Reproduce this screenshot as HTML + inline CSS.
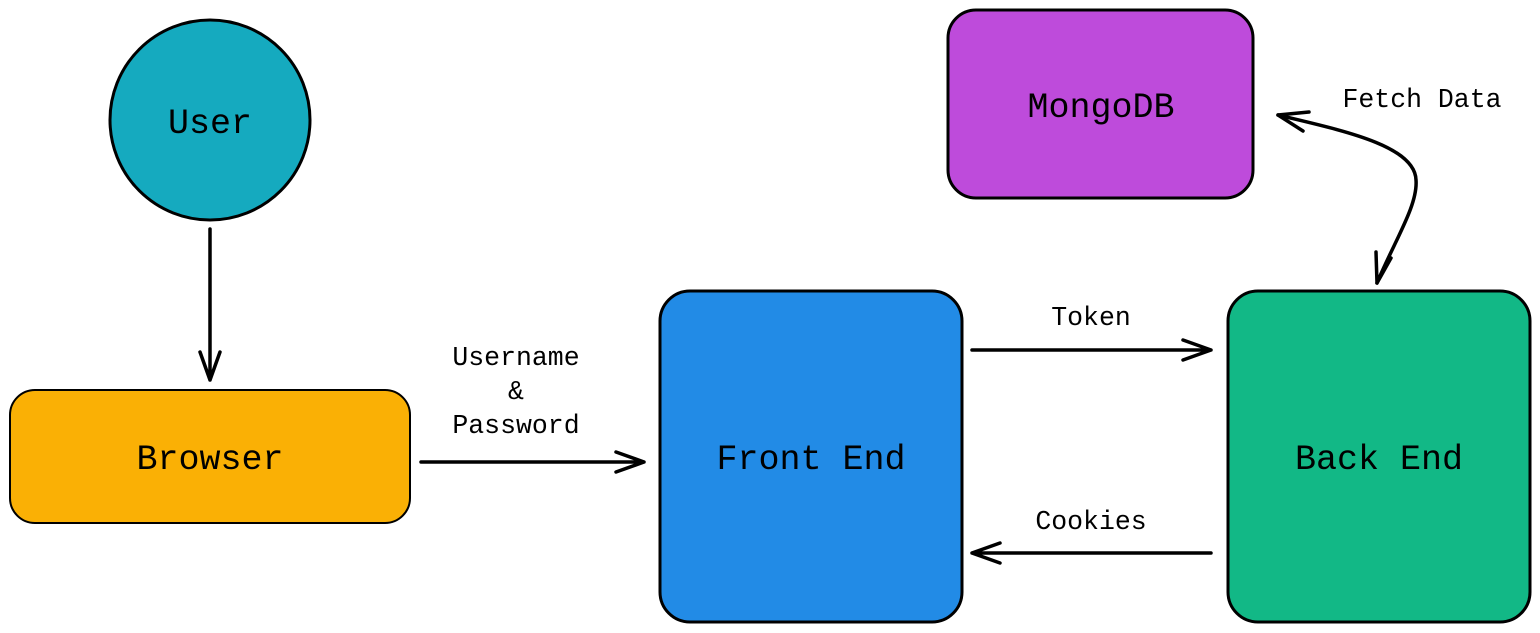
<!DOCTYPE html>
<html><head><meta charset="utf-8"><style>
html,body{margin:0;padding:0;background:#fff;}
svg{display:block}
text{font-family:"Liberation Mono","DejaVu Sans Mono",monospace;fill:#000}
</style></head><body>
<svg width="1540" height="633" viewBox="0 0 1540 633" xmlns="http://www.w3.org/2000/svg">
<g stroke="#000" stroke-width="3">
<circle cx="210" cy="120" r="100" fill="#15aabf"/>
<rect x="10" y="390" width="400" height="133" rx="25" fill="#fab005" stroke-width="2"/>
<rect x="660" y="291" width="302" height="331" rx="30" fill="#228be6"/>
<rect x="1228" y="291" width="302" height="331" rx="30" fill="#12b886"/>
<rect x="948" y="10" width="305" height="188" rx="28" fill="#be4bdb"/>
</g>
<g stroke="#000" stroke-width="3.5" fill="none" stroke-linecap="round" stroke-linejoin="round">
<path d="M210 229 L210 380 M200 352 L210 380 L220 352"/>
<path d="M421 462 L644 462 M616 452 L644 462 L616 472"/>
<path d="M972 350 L1211 350 M1183 340 L1211 350 L1183 360"/>
<path d="M1211 553 L972 553 M1000 543 L972 553 L1000 563"/>
<path d="M1278 115 C1340 130 1415 145 1416 180 C1418 205 1395 240 1377 283"/>
<path d="M1278 115 L1309 112 M1278 115 L1303 131"/>
<path d="M1377 283 L1376 252 M1377 283 L1391 258"/>
</g>
<g font-size="35" text-anchor="middle">
<text x="210" y="133">User</text>
<text x="210" y="469">Browser</text>
<text x="811" y="469">Front End</text>
<text x="1379" y="469">Back End</text>
<text x="1101" y="117">MongoDB</text>
</g>
<g font-size="26.5" text-anchor="middle">
<text x="516" y="365">Username</text>
<text x="516" y="399">&amp;</text>
<text x="516" y="433">Password</text>
<text x="1091" y="325">Token</text>
<text x="1091" y="529">Cookies</text>
<text x="1422" y="107">Fetch Data</text>
</g>
</svg>
</body></html>
